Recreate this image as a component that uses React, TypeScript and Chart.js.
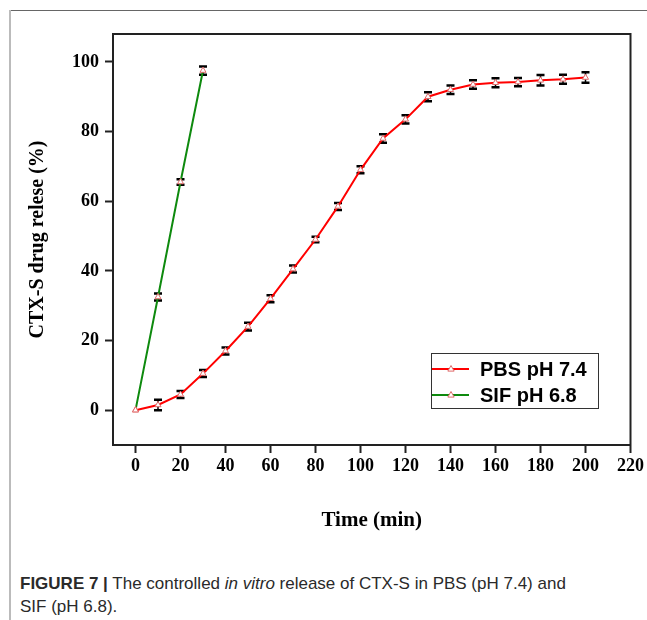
import React, { useEffect, useRef } from 'react';
import { Chart, registerables } from 'chart.js';

Chart.register(...registerables);

// ---- data ----
const timePBS = [0, 10, 20, 30, 40, 50, 60, 70, 80, 90, 100, 110, 120, 130, 140, 150, 160, 170, 180, 190, 200];
const releasePBS = [0, 1.5, 4.5, 10.5, 17, 24, 32, 40.5, 49, 58.5, 69, 78, 83.5, 90, 92, 93.5, 94, 94.2, 94.7, 95, 95.5];
const errorPBS = [0, 1.5, 1, 1, 1, 1.1, 1, 1, 0.8, 1, 1, 1.2, 1.2, 1.3, 1.2, 1.2, 1.3, 1.2, 1.5, 1.3, 1.5];
const timeSIF = [0, 10, 20, 30];
const releaseSIF = [0, 32.5, 65.5, 97.5];
const errorSIF = [0, 1, 0.8, 1.2];
const seriesLabels = ['PBS pH 7.4', 'SIF pH 6.8'];
const xTickValues = [0, 20, 40, 60, 80, 100, 120, 140, 160, 180, 200, 220];
const yTickValues = [0, 20, 40, 60, 80, 100];
const xTitle = 'Time (min)';
const yTitle = 'CTX-S drug relese (%)';

const RED = '#ff0000';
const GREEN = '#0e8a0e';
const MARKER = '#e06a6a';
const AXIS = '#222222';

const errorsByDataset = [errorPBS, errorSIF];

const errorBarPlugin = {
  id: 'errorBars',
  beforeDatasetsDraw(chart: any) {
    const ctx = chart.ctx;
    const y = chart.scales.y;
    ctx.save();
    ctx.strokeStyle = '#000';
    chart.data.datasets.forEach((ds: any, di: number) => {
      const meta = chart.getDatasetMeta(di);
      const errs = errorsByDataset[di];
      meta.data.forEach((pt: any, i: number) => {
        const e = errs[i];
        if (!e) return;
        const v = ds.data[i].y;
        const yTop = y.getPixelForValue(v + e);
        const yBot = y.getPixelForValue(v - e);
        const x = pt.x;
        ctx.lineWidth = 1.5;
        ctx.beginPath();
        ctx.moveTo(x, yTop);
        ctx.lineTo(x, yBot);
        ctx.stroke();
        ctx.lineWidth = 2.5;
        ctx.beginPath();
        ctx.moveTo(x - 4, yTop);
        ctx.lineTo(x + 4, yTop);
        ctx.moveTo(x - 4, yBot);
        ctx.lineTo(x + 4, yBot);
        ctx.stroke();
      });
    });
    ctx.restore();
  },
};

const framePlugin = {
  id: 'frame',
  afterDraw(chart: any) {
    const { ctx, chartArea } = chart;
    ctx.save();
    ctx.strokeStyle = AXIS;
    ctx.lineWidth = 2;
    ctx.strokeRect(chartArea.left, chartArea.top, chartArea.right - chartArea.left, chartArea.bottom - chartArea.top);
    ctx.restore();
  },
};

function drawTriangle(ctx: CanvasRenderingContext2D, x: number, y: number, r: number) {
  ctx.beginPath();
  ctx.moveTo(x, y - r);
  ctx.lineTo(x + r * 0.9, y + r * 0.6);
  ctx.lineTo(x - r * 0.9, y + r * 0.6);
  ctx.closePath();
  ctx.fillStyle = '#fff';
  ctx.fill();
  ctx.strokeStyle = MARKER;
  ctx.lineWidth = 1;
  ctx.stroke();
}

const legendPlugin = {
  id: 'customLegend',
  afterDraw(chart: any) {
    const ctx = chart.ctx;
    const bx = 431, by = 353, bw = 167, bh = 55;
    ctx.save();
    ctx.fillStyle = '#fff';
    ctx.fillRect(bx, by, bw, bh);
    ctx.strokeStyle = '#333';
    ctx.lineWidth = 1;
    ctx.strokeRect(bx + 0.5, by + 0.5, bw, bh);
    const colors = [RED, GREEN];
    seriesLabels.forEach((label, i) => {
      const cy = by + 16 + i * 26;
      ctx.strokeStyle = colors[i];
      ctx.lineWidth = 2;
      ctx.beginPath();
      ctx.moveTo(bx + 1, cy);
      ctx.lineTo(bx + 38, cy);
      ctx.stroke();
      drawTriangle(ctx, bx + 20, cy, 3.5);
      ctx.fillStyle = '#000';
      ctx.font = 'bold 20px "Liberation Sans", Arial, sans-serif';
      ctx.textBaseline = 'middle';
      ctx.textAlign = 'left';
      ctx.fillText(label, bx + 49, cy + 1);
    });
    ctx.restore();
  },
};

export default function App() {
  const canvasRef = useRef<HTMLCanvasElement | null>(null);

  useEffect(() => {
    const canvas = canvasRef.current;
    if (!canvas) return;
    const tickFont = { family: '"Liberation Serif", "Times New Roman", serif', size: 18, weight: 'bold' as const };
    const chart = new Chart(canvas, {
      type: 'line',
      data: {
        datasets: [
          {
            label: seriesLabels[0],
            data: timePBS.map((t, i) => ({ x: t, y: releasePBS[i] })),
            borderColor: RED,
            borderWidth: 2,
            pointStyle: 'triangle',
            pointRadius: 3.5,
            pointBorderWidth: 1,
            pointBorderColor: MARKER,
            pointBackgroundColor: '#fff',
            tension: 0,
          },
          {
            label: seriesLabels[1],
            data: timeSIF.map((t, i) => ({ x: t, y: releaseSIF[i] })),
            borderColor: GREEN,
            borderWidth: 2,
            pointStyle: 'triangle',
            pointRadius: 3.5,
            pointBorderWidth: 1,
            pointBorderColor: MARKER,
            pointBackgroundColor: '#fff',
            tension: 0,
          },
        ],
      },
      options: {
        responsive: false,
        animation: false,
        devicePixelRatio: 1,
        layout: { padding: { top: 34, right: 16, left: 0, bottom: 0 } },
        plugins: { legend: { display: false }, tooltip: { enabled: false } },
        scales: {
          x: {
            type: 'linear',
            min: -10,
            max: 220,
            afterBuildTicks: (s: any) => { s.ticks = xTickValues.map((v) => ({ value: v })); },
            afterFit: (s: any) => { s.height = 100; },
            grid: { drawOnChartArea: false, drawTicks: true, tickLength: 8, tickWidth: 2, tickColor: AXIS },
            border: { display: true, color: AXIS, width: 2 },
            ticks: { font: tickFont, color: '#000', padding: 3, maxRotation: 0, autoSkip: false },
            title: {
              display: true,
              text: xTitle,
              color: '#000',
              font: { family: '"Liberation Serif", "Times New Roman", serif', size: 21, weight: 'bold' },
              padding: { top: 0, bottom: 12 },
            },
          },
          y: {
            type: 'linear',
            min: -10,
            max: 108,
            afterBuildTicks: (s: any) => { s.ticks = yTickValues.map((v) => ({ value: v })); },
            afterFit: (s: any) => { s.width = 113; },
            grid: { drawOnChartArea: false, drawTicks: true, tickLength: 8, tickWidth: 2, tickColor: AXIS },
            border: { display: true, color: AXIS, width: 2 },
            ticks: { font: tickFont, color: '#000', padding: 6, autoSkip: false },
            title: {
              display: true,
              text: yTitle,
              color: '#000',
              font: { family: '"Liberation Serif", "Times New Roman", serif', size: 20, weight: 'bold' },
              padding: { top: 26, bottom: 0 },
            },
          },
        },
      },
      plugins: [errorBarPlugin, framePlugin, legendPlugin],
    } as any);
    return () => chart.destroy();
  }, []);

  return (
    <div style={{ position: 'fixed', left: 0, top: 0, width: 647, height: 620, background: '#fff', overflow: 'hidden' }}>
      <div style={{ position: 'absolute', left: 9, top: 10, right: 0, height: 0, borderTop: '1.5px solid #666' }} />
      <div style={{ position: 'absolute', left: 9, top: 10, bottom: 0, width: 0, borderLeft: '2px solid #bbb' }} />
      <canvas ref={canvasRef} width={647} height={545} style={{ position: 'absolute', left: 0, top: 0, width: 647, height: 545 }} />
      <div
        style={{
          position: 'absolute',
          left: 20,
          top: 572,
          fontFamily: '"Liberation Sans", Arial, sans-serif',
          fontSize: 17,
          lineHeight: '23px',
          color: '#2a2a2a',
          whiteSpace: 'nowrap',
        }}
      >
        <b>FIGURE 7 |</b> The controlled <i>in vitro</i> release of CTX-S in PBS (pH 7.4) and
        <br />
        SIF (pH 6.8).
      </div>
    </div>
  );
}
